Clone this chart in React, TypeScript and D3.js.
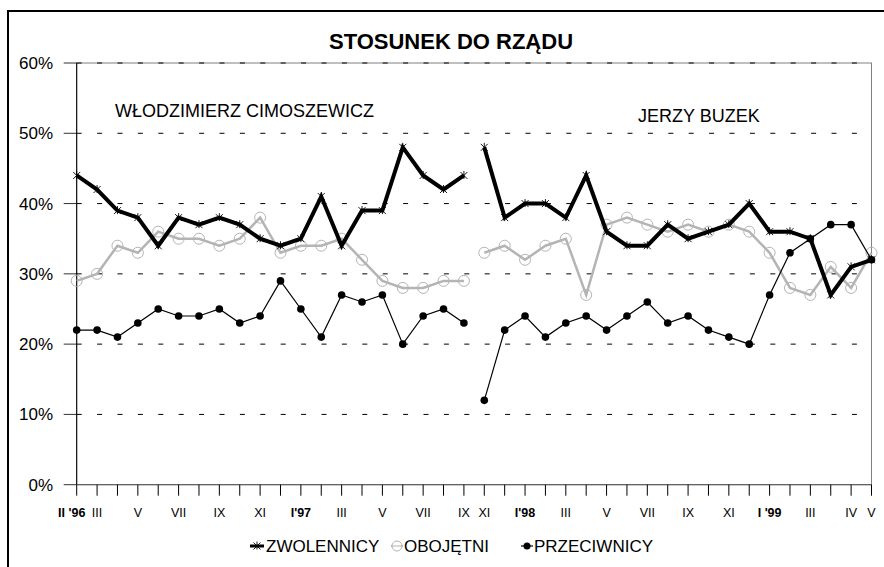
import React from 'react';
import * as d3 from 'd3';

// survey months, one per tick (blank = unlabelled tick)
const tickLabels = [
  "II '96", 'III', '', 'V', '', 'VII', '', 'IX', '', 'XI', '', "I'97", '', 'III', '', 'V', '', 'VII', '', 'IX',
  'XI', '', "I'98", '', 'III', '', 'V', '', 'VII', '', 'IX', '', 'XI', '', "I '99", '', 'III', '', 'IV', 'V',
];

// Cimoszewicz government: ticks 0..19
const zwolCim = [44, 42, 39, 38, 34, 38, 37, 38, 37, 35, 34, 35, 41, 34, 39, 39, 48, 44, 42, 44];
const obojCim = [29, 30, 34, 33, 36, 35, 35, 34, 35, 38, 33, 34, 34, 35, 32, 29, 28, 28, 29, 29];
const przecCim = [22, 22, 21, 23, 25, 24, 24, 25, 23, 24, 29, 25, 21, 27, 26, 27, 20, 24, 25, 23];

// Buzek government: ticks 20..39
const zwolBuz = [48, 38, 40, 40, 38, 44, 36, 34, 34, 37, 35, 36, 37, 40, 36, 36, 35, 27, 31, 32];
const obojBuz = [33, 34, 32, 34, 35, 27, 37, 38, 37, 36, 37, 36, 37, 36, 33, 28, 27, 31, 28, 33];
const przecBuz = [12, 22, 24, 21, 23, 24, 22, 24, 26, 23, 24, 22, 21, 20, 27, 33, 35, 37, 37, 32];

const yTicks = [0, 10, 20, 30, 40, 50, 60];

const FONT = 'Arial, "Liberation Sans", sans-serif';
const GREY = '#b4b4b4';

const x = d3.scalePoint<number>().domain(d3.range(tickLabels.length)).range([76.7, 871.5]);
const y = d3.scaleLinear().domain([0, 60]).range([484.7, 63]);

type Pt = [number, number];
const toPts = (vals: number[], offset: number): Pt[] => vals.map((v, i) => [i + offset, v]);

const line = d3.line<Pt>().x(d => x(d[0])!).y(d => y(d[1]));

const star = (cx: number, cy: number, s = 3.5) =>
  `M${cx - s},${cy - s}L${cx + s},${cy + s}M${cx - s},${cy + s}L${cx + s},${cy - s}M${cx},${cy - s - 1}L${cx},${cy + s}`;

function Series({ pts, kind }: { pts: Pt[]; kind: 'zwol' | 'oboj' | 'przec' }) {
  if (kind === 'zwol') {
    return (
      <g>
        <path d={line(pts)!} fill="none" stroke="#000" strokeWidth={4} strokeLinejoin="miter" />
        {pts.map((p, i) => (
          <path key={i} d={star(x(p[0])!, y(p[1]))} stroke="#000" strokeWidth={0.9} />
        ))}
      </g>
    );
  }
  if (kind === 'oboj') {
    return (
      <g>
        <path d={line(pts)!} fill="none" stroke={GREY} strokeWidth={2.5} />
        {pts.map((p, i) => (
          <circle key={i} cx={x(p[0])} cy={y(p[1])} r={5.5} fill="none" stroke={GREY} strokeWidth={1} />
        ))}
      </g>
    );
  }
  return (
    <g>
      <path d={line(pts)!} fill="none" stroke="#000" strokeWidth={1.2} />
      {pts.map((p, i) => (
        <circle key={i} cx={x(p[0])} cy={y(p[1])} r={3.8} fill="#000" />
      ))}
    </g>
  );
}

export default function App() {
  const [x0, x1] = x.range();
  const legendY = 546;
  return (
    <svg width={884} height={567} style={{ position: 'absolute', left: 0, top: 0 }} fontFamily={FONT}>
      <rect x={0} y={0} width={884} height={567} fill="#fff" />
      <rect x={8} y={11} width={920} height={600} fill="none" stroke="#000" strokeWidth={2} />

      <text x={451} y={49} textAnchor="middle" fontSize={22} fontWeight="bold">STOSUNEK DO RZĄDU</text>

      {/* plot frame */}
      <rect x={x0} y={y(60)} width={x1 - x0} height={y(0) - y(60)} fill="none" stroke="#808080" strokeWidth={1} />

      {/* gridlines + y axis */}
      {yTicks.map(t => (
        <g key={t}>
          {t > 0 && (
            <line x1={x0} x2={x1} y1={y(t)} y2={y(t)} stroke="#000" strokeWidth={1} strokeDasharray="5 15.4" />
          )}
          <line x1={x0 - 13} x2={x0} y1={y(t)} y2={y(t)} stroke="#333" strokeWidth={1} />
          <text x={53} y={y(t) + 6} textAnchor="end" fontSize={17}>{t}%</text>
        </g>
      ))}
      <line x1={x0} x2={x0} y1={y(60)} y2={y(0)} stroke="#000" strokeWidth={1} />
      <line x1={x0} x2={x1} y1={y(0)} y2={y(0)} stroke="#555" strokeWidth={1} />

      {/* x axis */}
      {tickLabels.map((lab, i) => (
        <g key={i}>
          <line x1={x(i)} x2={x(i)} y1={y(0)} y2={y(0) + 11} stroke="#000" strokeWidth={1} />
          {lab && (
            <text x={x(i)! + (i === 0 ? -5 : 0)} y={517} textAnchor="middle" fontSize={12.5}
              fontWeight={/\d/.test(lab) ? 'bold' : 'normal'}>{lab}</text>
          )}
        </g>
      ))}

      <text x={115} y={116.5} fontSize={18}>WŁODZIMIERZ CIMOSZEWICZ</text>
      <text x={638} y={121.5} fontSize={18}>JERZY BUZEK</text>

      <Series pts={toPts(obojCim, 0)} kind="oboj" />
      <Series pts={toPts(obojBuz, 20)} kind="oboj" />
      <Series pts={toPts(przecCim, 0)} kind="przec" />
      <Series pts={toPts(przecBuz, 20)} kind="przec" />
      <Series pts={toPts(zwolCim, 0)} kind="zwol" />
      <Series pts={toPts(zwolBuz, 20)} kind="zwol" />

      {/* legend */}
      <g fontSize={17}>
        <line x1={250} x2={264} y1={legendY} y2={legendY} stroke="#000" strokeWidth={3} />
        <path d={star(257, legendY)} stroke="#000" strokeWidth={0.9} />
        <text x={266} y={551.7}>ZWOLENNICY</text>

        <line x1={391} x2={403} y1={legendY} y2={legendY} stroke={GREY} strokeWidth={2} />
        <circle cx={397} cy={legendY} r={5} fill="#fff" stroke={GREY} strokeWidth={1} />
        <line x1={392} x2={402} y1={legendY} y2={legendY} stroke={GREY} strokeWidth={1} />
        <text x={404} y={551.7}>OBOJĘTNI</text>

        <line x1={521} x2={533} y1={legendY} y2={legendY} stroke="#000" strokeWidth={1.2} />
        <circle cx={527} cy={legendY} r={3.5} fill="#000" />
        <text x={534} y={551.7}>PRZECIWNICY</text>
      </g>
    </svg>
  );
}
